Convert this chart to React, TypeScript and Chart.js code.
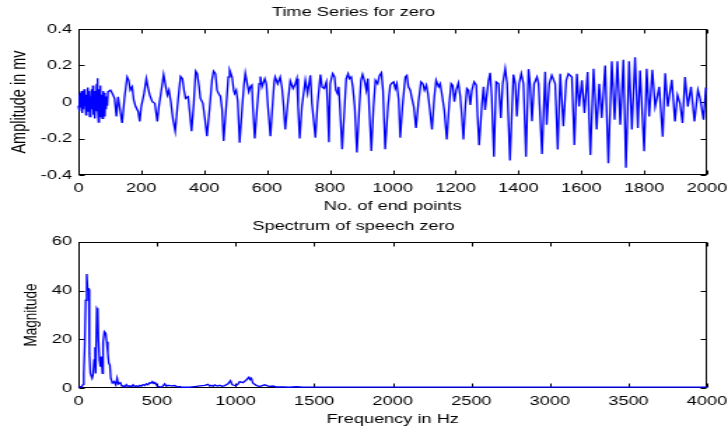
import React, { useEffect, useRef } from 'react';
import { Chart, registerables } from 'chart.js';

Chart.register(...registerables);

const FONT = "'Liberation Sans', Arial, Helvetica, sans-serif";
const BASE_W = 520; // drawn width, stretched to 728 on screen like the reference
const TOP_H = 216;
const BOT_H = 214;

// ---------- Time series ("Time Series for zero") ----------
const tsIndex = [
  0, 2, 4, 6, 8, 10, 12, 14, 16, 18, 20, 22, 24, 26, 28, 30, 32, 34, 36, 38, 40, 42, 44, 46, 48, 50,
  52, 54, 56, 58, 60, 62, 64, 66, 68, 70, 72, 74, 76, 78, 80, 82, 84, 86, 88, 90, 92,
  94, 102, 108, 115, 121, 126, 131, 139, 147, 155, 160, 165, 171, 176, 182, 190, 195, 200, 209, 216,
  221, 227, 235, 243, 251, 256, 267, 271, 278, 283, 288, 294, 301, 308, 317, 325, 331, 336, 341, 349,
  354, 360, 367, 373, 378, 384,
  388, 396, 403, 409, 418, 425, 430, 436, 441, 446, 452, 457, 462, 471, 477, 481, 489, 494, 497, 502,
  507, 513, 522, 527, 531, 536, 542, 547, 552, 555, 561, 568, 575, 579, 584, 593, 598, 603, 611, 618,
  623, 626, 634, 642, 648, 653, 658, 666, 674, 683, 690, 695, 699, 704, 711, 722, 729, 738, 743, 754,
  761, 770, 775, 782, 789, 793, 797,
  801, 809, 815, 819, 824, 828, 832, 839, 847, 852, 858, 862, 868, 873, 879, 886, 894, 899, 904, 911,
  916, 921, 925, 932, 939, 945, 952, 958, 964, 969, 976, 985, 992, 998, 1003, 1008, 1013, 1019, 1024,
  1031, 1040, 1045, 1050, 1056, 1061, 1067, 1074, 1082, 1090, 1096, 1101, 1107, 1112, 1117, 1125, 1132,
  1138, 1146, 1151, 1157, 1164, 1172, 1180,
  1186, 1191, 1196, 1202, 1209, 1215, 1220, 1225, 1231, 1236, 1241, 1247, 1252, 1259, 1266, 1270, 1275,
  1284, 1289, 1294, 1300, 1305, 1310, 1315, 1322, 1329, 1337, 1344, 1350, 1358, 1364, 1373, 1384, 1390,
  1395, 1402, 1409, 1416, 1424, 1432, 1437, 1443, 1450, 1459, 1464, 1475, 1485, 1490, 1498, 1506, 1517,
  1525, 1533, 1543, 1552, 1559, 1570, 1578,
  1586, 1593, 1602, 1610, 1620, 1629, 1639, 1649, 1657, 1665, 1676, 1686, 1697, 1706, 1715, 1724, 1734,
  1742, 1752, 1761, 1771, 1780, 1787, 1800, 1808, 1816, 1826, 1835, 1848, 1859, 1867, 1875, 1888, 1898,
  1906, 1914, 1922, 1930, 1939, 1949, 1960, 1971, 1978, 1989, 1996, 2000,
];

const tsAmp = [
  -0.02, 0.04, -0.05, 0.05, -0.03, 0.06, -0.06, 0.03, -0.04, 0.07, -0.02, 0.05, -0.07, 0.04, -0.05, 0.08,
  -0.03, 0.06, -0.08, 0.03, -0.06, 0.07, -0.04, 0.09, -0.07, 0.05, -0.09, 0.06, -0.05, 0.1, 0.13, -0.03,
  -0.11, 0.07, -0.06, 0.09, -0.08, 0.04, -0.09, 0.06, -0.05, 0.05, -0.08, 0.02, -0.04, 0.03, -0.02,
  0.056, 0.065, 0.047, 0.02, -0.079, 0.029, -0.025, -0.115, 0.029, 0.137, 0.119, 0.065, 0.083, 0.011,
  -0.025, -0.052, -0.106, -0.025, 0.047, 0.128, 0.083, 0.038, 0.002, -0.007, -0.106, -0.025, 0.101,
  0.151, 0.083, 0.038, 0.065, 0.002, -0.097, -0.16, 0.011, 0.14, 0.128, 0.065, 0.02, 0.029, -0.052,
  -0.16, -0.007, 0.169, 0.155, 0.083,
  0.02, -0.007, -0.1, -0.187, -0.025, 0.12, 0.169, 0.155, 0.065, 0.047, 0.03, -0.04, -0.214, -0.007,
  0.137, 0.176, 0.137, 0.065, 0.047, 0.065, 0.002, -0.223, -0.007, 0.1, 0.158, 0.11, 0.056, 0.083, 0.092,
  -0.025, -0.2, -0.043, 0.1, 0.14, 0.083, 0.128, 0.1, -0.025, -0.187, -0.007, 0.11, 0.137, 0.1, 0.137,
  0.074, -0.025, -0.15, -0.007, 0.115, 0.074, 0.1, 0.128, -0.025, -0.2, -0.025, 0.12, 0.047, 0.146,
  -0.007, -0.196, -0.007, 0.15, 0.083, 0.074, 0.11, -0.025, -0.22,
  0.1, 0.155, 0.137, 0.065, 0.047, 0.083, -0.025, -0.259, -0.025, 0.128, 0.155, 0.128, 0.137, 0.083,
  -0.025, -0.277, -0.025, 0.119, 0.151, 0.11, 0.065, 0.128, -0.025, -0.268, -0.025, 0.119, 0.1, 0.146,
  0.16, 0.065, -0.259, -0.025, 0.092, 0.104, 0.11, 0.074, 0.1, 0.011, -0.196, -0.025, 0.137, 0.146,
  0.083, 0.065, 0.02, -0.025, -0.142, 0.002, 0.11, 0.1, 0.065, 0.092, 0.047, -0.025, -0.151, 0.02,
  0.119, 0.083, 0.1, 0.038, -0.043, -0.205, -0.007,
  0.1, 0.09, 0.002, 0.065, 0.104, 0.029, -0.079, -0.205, -0.025, 0.074, 0.065, -0.016, 0.065, 0.11,
  0.092, -0.079, -0.237, -0.007, 0.083, -0.043, 0.047, 0.119, 0.16, 0.029, -0.3, 0.11, 0.1, -0.088,
  0.1, 0.183, 0.1, -0.32, 0.15, 0.1, -0.079, 0.1, 0.155, 0.1, -0.3, 0.18, 0.1, -0.106, 0.1, 0.137,
  0.1, -0.285, 0.166, -0.124, 0.1, 0.146, 0.1, -0.26, 0.155, -0.133, 0.119, 0.155, 0.137, -0.235,
  0.155, -0.025, 0.119, -0.06, 0.164, -0.29, 0.182, -0.151, 0.1, -0.088, 0.2, -0.335, 0.223, -0.097,
  0.223, -0.124, 0.232, -0.36, 0.223, -0.151, 0.245, -0.142, 0.173, -0.27, 0.182, -0.079, 0.176,
  -0.025, 0.083, -0.19, 0.158, -0.025, 0.122, -0.106, 0.038, -0.007, -0.115, 0.137, -0.025, 0.083,
  -0.106, 0.065, 0.02, -0.097, 0.074, 0.07,
];

const sampleTicks = [0, 200, 400, 600, 800, 1000, 1200, 1400, 1600, 1800, 2000];
const ampTicks = [-0.4, -0.2, 0, 0.2, 0.4];

// ---------- Spectrum ("Spectrum of speech zero") ----------
const specHz = [
  0, 10, 20, 30, 34, 40, 46, 53, 59, 66, 70, 76, 87, 93, 100, 106, 110, 117, 123, 127, 134, 140, 146,
  153, 157, 165, 174, 180, 187, 193, 200, 206, 216, 227, 238, 246, 254, 267, 276, 284, 295, 305, 316,
  327, 338, 348, 359, 369, 380, 390, 400, 411, 422, 432, 443, 454, 463, 471, 480, 488, 500, 517, 534,
  549, 560, 570, 591, 613, 630, 644, 660, 676, 708, 740, 772, 804, 825, 836, 846, 857, 867, 883, 899,
  915, 931, 952, 967, 979, 1001, 1014, 1026, 1047, 1068, 1085, 1092, 1100, 1111, 1132, 1153, 1170,
  1185, 1217, 1240, 1259, 1302, 1344, 1386, 1429, 1471, 1600, 2000, 2500, 3000, 3500, 4000,
];

const specMag = [
  0.3, 0.5, 0.4, 1.5, 6, 17, 36, 46.8, 40.2, 40.5, 14, 6, 4, 5.4, 11.5, 16.7, 6, 32.7, 32, 20.4, 11.5,
  8.8, 12.9, 6, 19, 23.1, 22.4, 19, 14.3, 10.2, 9.5, 4, 2, 2.6, 1.3, 4, 1.7, 2.2, 0.8, 0.9, 0.4, 1.4,
  0.6, 0.9, 0.5, 1.3, 0.6, 0.9, 0.5, 1.1, 0.8, 1.4, 1.0, 1.7, 1.3, 2.2, 2.0, 2.6, 1.9, 2.2, 0.9, 0.4,
  0.6, 1.7, 0.7, 1.1, 0.9, 1.0, 0.4, 0.6, 0.3, 0.3, 0.3, 0.6, 0.9, 1.1, 1.5, 0.8, 1.1, 0.7, 1.3, 0.8,
  1.1, 0.7, 1.0, 1.7, 3.0, 1.3, 0.9, 1.5, 2.6, 2.2, 3.3, 4.4, 3.5, 4.0, 2.0, 1.1, 0.6, 1.0, 1.3, 0.6,
  0.8, 0.4, 0.4, 0.3, 0.5, 0.35, 0.35, 0.35, 0.35, 0.35, 0.35, 0.35, 0.35,
];

const freqTicks = [0, 500, 1000, 1500, 2000, 2500, 3000, 3500, 4000];
const magTicks = [0, 20, 40, 60];

// Box round the plot area, with MATLAB-style inward tick marks
const framePlugin = {
  id: 'frame',
  beforeDatasetsDraw(chart: any) {
    const { ctx, chartArea, scales } = chart;
    const l = Math.round(chartArea.left) + 0.5;
    const r = Math.round(chartArea.right) - 0.5;
    const t = Math.round(chartArea.top) + 0.5;
    const b = Math.round(chartArea.bottom) - 0.5;
    ctx.save();
    ctx.strokeStyle = '#000';
    ctx.lineWidth = 1;
    ctx.strokeRect(l, t, r - l, b - t);
    ctx.beginPath();
    scales.x.ticks.forEach((tk: any) => {
      const px = Math.round(scales.x.getPixelForValue(tk.value)) + 0.5;
      ctx.moveTo(px, b);
      ctx.lineTo(px, b - 4);
      ctx.moveTo(px, t);
      ctx.lineTo(px, t + 4);
    });
    scales.y.ticks.forEach((tk: any) => {
      const py = Math.round(scales.y.getPixelForValue(tk.value)) + 0.5;
      ctx.moveTo(l, py);
      ctx.lineTo(l + 4, py);
      ctx.moveTo(r, py);
      ctx.lineTo(r - 4, py);
    });
    ctx.stroke();
    ctx.restore();
  },
};

function makeConfig(o: any) {
  const font = { family: FONT, size: 13, weight: 'normal' as const };
  return {
    type: 'line' as const,
    data: {
      datasets: [
        {
          data: o.xs.map((x: number, i: number) => ({ x, y: o.ys[i] })),
          borderColor: '#0000ff',
          borderWidth: 1.35,
          pointRadius: 0,
          tension: 0,
          fill: false,
          clip: 2,
        },
      ],
    },
    options: {
      responsive: false,
      animation: false,
      devicePixelRatio: 1,
      parsing: false,
      layout: { padding: { left: 0, right: 15, top: o.padTop, bottom: 0 } },
      plugins: {
        legend: { display: false },
        tooltip: { enabled: false },
        title: {
          display: true,
          text: o.title,
          color: '#000',
          font,
          padding: o.titlePad,
        },
      },
      scales: {
        x: {
          type: 'linear',
          min: o.xTicks[0],
          max: o.xTicks[o.xTicks.length - 1],
          afterBuildTicks: (s: any) => {
            s.ticks = o.xTicks.map((v: number) => ({ value: v }));
          },
          afterFit: (s: any) => {
            s.height = o.xAxisH;
            s.paddingLeft = 0;
            s.paddingRight = 0;
          },
          grid: { display: false, drawTicks: false },
          border: { display: false },
          ticks: {
            color: '#000',
            font,
            padding: 5.5,
            maxRotation: 0,
            autoSkip: false,
            callback: (v: any) => String(v),
          },
          title: {
            display: true,
            text: o.xTitle,
            color: '#000',
            font,
            padding: { top: 0, bottom: o.xTitlePadBottom },
          },
        },
        y: {
          type: 'linear',
          min: o.yTicks[0],
          max: o.yTicks[o.yTicks.length - 1],
          afterBuildTicks: (s: any) => {
            s.ticks = o.yTicks.map((v: number) => ({ value: v }));
          },
          afterFit: (s: any) => {
            s.width = 56;
            s.paddingTop = 0;
            s.paddingBottom = 0;
          },
          grid: { display: false, drawTicks: false },
          border: { display: false },
          ticks: {
            color: '#000',
            font,
            padding: 4.5,
            autoSkip: false,
            callback: (v: any) => String(v),
          },
          title: {
            display: true,
            text: o.yTitle,
            color: '#000',
            font: { family: FONT, size: o.yTitleSize, weight: 'normal' as const },
            padding: { top: o.yTitlePadTop, bottom: 0 },
          },
        },
      },
    },
    plugins: [framePlugin],
  };
}

export default function App() {
  const topRef = useRef<HTMLCanvasElement>(null);
  const botRef = useRef<HTMLCanvasElement>(null);

  useEffect(() => {
    const top = new Chart(
      topRef.current as HTMLCanvasElement,
      makeConfig({
        xs: tsIndex,
        ys: tsAmp,
        xTicks: sampleTicks,
        yTicks: ampTicks,
        title: 'Time Series for zero',
        titlePad: { top: 4, bottom: 8.4 },
        padTop: 1,
        xTitle: 'No. of end points',
        xTitlePadBottom: 1.5,
        xAxisH: TOP_H - 175,
        yTitle: 'Amplitude in mv',
        yTitleSize: 14.5,
        yTitlePadTop: 5.6,
      }) as any
    );
    const bot = new Chart(
      botRef.current as HTMLCanvasElement,
      makeConfig({
        xs: specHz,
        ys: specMag,
        xTicks: freqTicks,
        yTicks: magTicks,
        title: 'Spectrum of speech zero',
        titlePad: { top: 2.2, bottom: 8 },
        padTop: 0,
        xTitle: 'Frequency in Hz',
        xTitlePadBottom: 2.9,
        xAxisH: BOT_H - 172,
        yTitle: 'Magnitude',
        yTitleSize: 13.5,
        yTitlePadTop: 14.5,
      }) as any
    );
    return () => {
      top.destroy();
      bot.destroy();
    };
  }, []);

  return (
    <div
      style={{
        position: 'absolute',
        left: 0,
        top: 0,
        width: 728,
        height: 430,
        background: '#fff',
      }}
    >
      <canvas
        ref={topRef}
        width={BASE_W}
        height={TOP_H}
        style={{ display: 'block', width: 728, height: TOP_H }}
      />
      <canvas
        ref={botRef}
        width={BASE_W}
        height={BOT_H}
        style={{ display: 'block', width: 728, height: BOT_H }}
      />
    </div>
  );
}
